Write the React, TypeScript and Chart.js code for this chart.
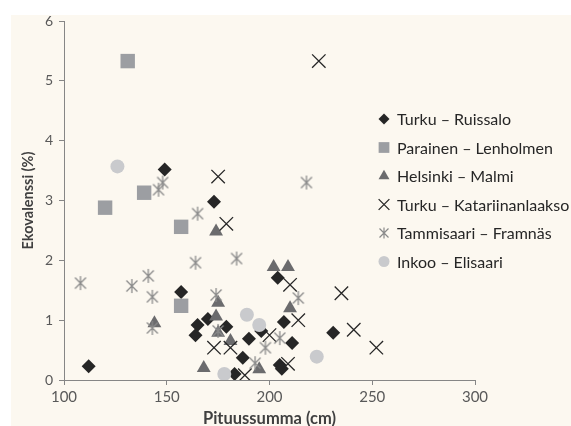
import React, { useEffect, useRef } from 'react';
import { Chart, registerables } from 'chart.js';
import { drawPoint } from 'chart.js/helpers';

Chart.register(...registerables);

// ---- data ----
const seriesNames = [
  'Turku – Ruissalo',
  'Parainen – Lenholmen',
  'Helsinki – Malmi',
  'Turku – Katariinanlaakso',
  'Tammisaari – Framnäs',
  'Inkoo – Elisaari',
];

const ruissaloX = [112, 149, 173, 157, 165, 164, 170, 179, 190, 187, 183, 204, 196, 207, 211, 205, 206, 231];
const ruissaloY = [0.23, 3.52, 2.98, 1.47, 0.92, 0.75, 1.02, 0.89, 0.69, 0.37, 0.10, 1.71, 0.82, 0.97, 0.62, 0.25, 0.19, 0.79];

const lenholmenX = [131, 120, 139, 157, 157];
const lenholmenY = [5.33, 2.88, 3.13, 2.56, 1.24];

const malmiX = [144, 174, 175, 174, 175, 181, 168, 195, 202, 209, 210];
const malmiY = [0.95, 2.48, 1.29, 1.06, 0.79, 0.65, 0.20, 0.18, 1.89, 1.89, 1.20];

const katariinaX = [224, 175, 179, 210, 235, 241, 252, 214, 200, 173, 181, 188, 209];
const katariinaY = [5.33, 3.40, 2.61, 1.59, 1.45, 0.84, 0.54, 1.00, 0.75, 0.54, 0.54, 0.08, 0.27];

const framnasX = [108, 133, 141, 143, 143, 146, 148, 165, 164, 184, 218, 174, 175, 214, 205, 198, 193];
const framnasY = [1.62, 1.57, 1.74, 1.39, 0.87, 3.18, 3.30, 2.78, 1.96, 2.03, 3.30, 1.42, 0.82, 1.37, 0.70, 0.54, 0.28];

const elisaariX = [126, 189, 195, 178, 223];
const elisaariY = [3.57, 1.09, 0.92, 0.10, 0.39];

const xTickValues = [100, 150, 200, 250, 300];
const yTickValues = [0, 1, 2, 3, 4, 5, 6];

const xTitle = 'Pituussumma (cm)';
const yTitle = 'Ekovalenssi (%)';

// ---- styles ----
const FONT = 'Lato';
const AXIS_COLOR = '#868686';
const BG = '#FCF8F0';

function makeAsterisk(size: number, diag: number, vert: number, color: string, lw: number) {
  const c = document.createElement('canvas');
  c.width = size;
  c.height = size;
  const ctx = c.getContext('2d')!;
  const m = size / 2;
  ctx.strokeStyle = color;
  ctx.lineWidth = lw;
  ctx.beginPath();
  ctx.moveTo(m - diag, m - diag);
  ctx.lineTo(m + diag, m + diag);
  ctx.moveTo(m + diag, m - diag);
  ctx.lineTo(m - diag, m + diag);
  ctx.moveTo(m, m - vert);
  ctx.lineTo(m, m + vert);
  ctx.stroke();
  return c;
}

// font size that makes `text` about `target` px wide
function fitSize(text: string, target: number, weight: string) {
  const c = document.createElement('canvas');
  const ctx = c.getContext('2d')!;
  ctx.font = `${weight} 20px ${FONT}`;
  const w = ctx.measureText(text).width;
  return Math.round((20 * target / w) * 2) / 2;
}

export default function App() {
  const ref = useRef<HTMLCanvasElement | null>(null);

  useEffect(() => {
    if (!ref.current) return;
    const asterisk = makeAsterisk(16, 5.5, 7, '#8a8a8a', 1.3);
    const asteriskLegend = makeAsterisk(14, 4.5, 5.5, '#8a8a8a', 1.2);

    const legendSize = (fitSize(seriesNames[3], 172, 'normal') + fitSize(seriesNames[1], 158, 'normal')) / 2;
    const xTitleSize = fitSize(xTitle, 135, 'bold');
    const yTitleSize = fitSize(yTitle, 99, 'bold');

    const toPts = (xs: number[], ys: number[]) => xs.map((x, i) => ({ x, y: ys[i] }));

    const styles = [
      { pointStyle: 'rectRot', radius: 7, bg: '#262626', border: '#262626', bw: 0, lr: 5.5 },
      { pointStyle: 'rect', radius: 10.2, bg: '#9c9ea2', border: '#9c9ea2', bw: 0, lr: 7.6 },
      { pointStyle: 'triangle', radius: 8, bg: '#6b6b6d', border: '#6b6b6d', bw: 0, lr: 6.3 },
      { pointStyle: 'crossRot', radius: 9.5, bg: '#262626', border: '#262626', bw: 1.3, lr: 7.6 },
      { pointStyle: asterisk as any, radius: 8, bg: '#8a8a8a', border: '#8a8a8a', bw: 0, lr: 6 },
      { pointStyle: 'circle', radius: 7, bg: '#c9cacd', border: '#c9cacd', bw: 0, lr: 5.5 },
    ];
    const seriesData = [
      toPts(ruissaloX, ruissaloY),
      toPts(lenholmenX, lenholmenY),
      toPts(malmiX, malmiY),
      toPts(katariinaX, katariinaY),
      toPts(framnasX, framnasY),
      toPts(elisaariX, elisaariY),
    ];

    const datasets = seriesData.map((d, i) => ({
      label: seriesNames[i],
      data: d,
      pointStyle: styles[i].pointStyle,
      pointRadius: styles[i].radius,
      pointHoverRadius: styles[i].radius,
      backgroundColor: styles[i].bg,
      borderColor: styles[i].border,
      pointBorderWidth: styles[i].bw,
      borderWidth: styles[i].bw,
      showLine: false,
      order: 10 - i,
    }));

    const bgPlugin = {
      id: 'bgPlugin',
      beforeDraw(chart: any) {
        const ctx = chart.ctx;
        ctx.save();
        ctx.fillStyle = BG;
        ctx.fillRect(11, 15, chart.width - 11, chart.height - 15);
        ctx.restore();
      },
    };

    const legendPlugin = {
      id: 'customLegend',
      afterDraw(chart: any) {
        const ctx = chart.ctx;
        const mx = 384;
        const tx = 397;
        const y0 = 119;
        const dy = 28.5;
        ctx.save();
        seriesNames.forEach((name, i) => {
          const y = y0 + i * dy;
          const s = styles[i];
          ctx.fillStyle = s.bg;
          ctx.strokeStyle = s.border;
          ctx.lineWidth = s.bw || 1;
          const ps = i === 4 ? asteriskLegend : s.pointStyle;
          drawPoint(ctx, { pointStyle: ps, rotation: 0, radius: s.lr, borderWidth: s.bw }, mx, y);
          ctx.fillStyle = '#262626';
          ctx.font = `${legendSize}px ${FONT}`;
          ctx.textBaseline = 'middle';
          ctx.textAlign = 'left';
          ctx.fillText(name, tx, y + 1);
        });
        ctx.restore();
      },
    };

    const chart = new Chart(ref.current, {
      type: 'scatter',
      data: { datasets: datasets as any },
      plugins: [bgPlugin, legendPlugin],
      options: {
        responsive: false,
        animation: false,
        devicePixelRatio: 1,
        layout: { padding: { left: 0, top: 21, right: 96, bottom: 0 } },
        plugins: { legend: { display: false }, tooltip: { enabled: false } },
        scales: {
          x: {
            type: 'linear',
            min: 100,
            max: 300,
            afterBuildTicks: (s: any) => {
              s.ticks = xTickValues.map((v) => ({ value: v }));
            },
            ticks: { color: '#595959', font: { family: FONT, size: 15 }, padding: 3 },
            grid: { drawOnChartArea: false, drawTicks: true, tickLength: 5, color: AXIS_COLOR },
            border: { color: AXIS_COLOR, width: 1 },
            title: {
              display: true,
              text: xTitle,
              color: '#404040',
              font: { family: FONT, size: xTitleSize, weight: 'bold', lineHeight: 1 },
              padding: { top: 0, bottom: -1 },
            },
            afterFit: (s: any) => {
              s.height = 46;
            },
          },
          y: {
            type: 'linear',
            min: 0,
            max: 6,
            afterBuildTicks: (s: any) => {
              s.ticks = yTickValues.map((v) => ({ value: v }));
            },
            ticks: { color: '#595959', font: { family: FONT, size: 14 }, padding: 6 },
            grid: { drawOnChartArea: false, drawTicks: true, tickLength: 5, color: AXIS_COLOR },
            border: { color: AXIS_COLOR, width: 1 },
            title: {
              display: true,
              text: yTitle,
              color: '#404040',
              font: { family: FONT, size: yTitleSize, weight: 'bold', lineHeight: 1.2 },
              padding: { top: 28 - (yTitleSize * 1.2) / 2, bottom: 0 },
            },
            afterFit: (s: any) => {
              s.width = 64;
            },
          },
        },
      } as any,
    });
    return () => chart.destroy();
  }, []);

  return (
    <div style={{ position: 'absolute', left: 0, top: 0, width: 571, height: 426 }}>
      <canvas ref={ref} width={571} height={426} style={{ display: 'block', width: 571, height: 426 }} />
    </div>
  );
}
